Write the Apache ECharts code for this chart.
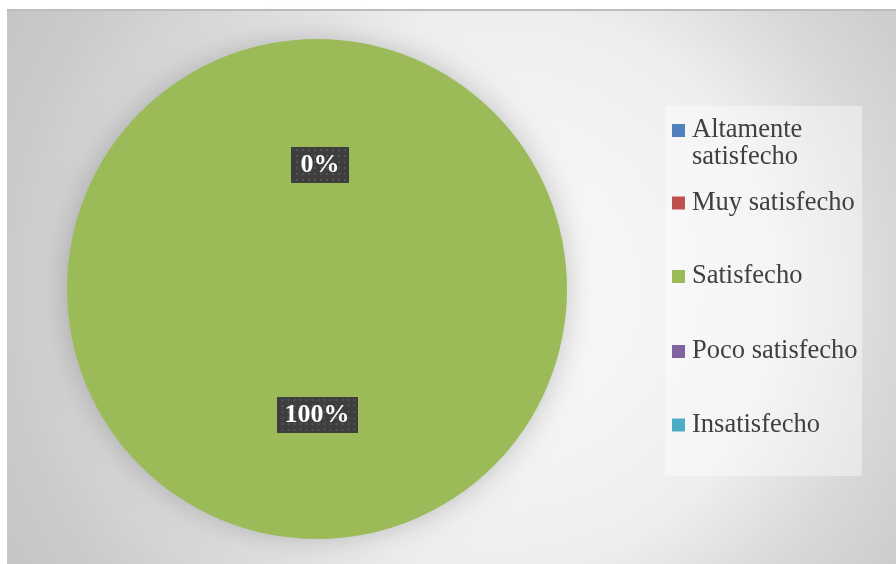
<!DOCTYPE html>
<html>
<head>
<meta charset="utf-8">
<style>
  html, body { margin: 0; padding: 0; background: #ffffff; }
  #chart { width: 896px; height: 564px; }
</style>
<script src="https://cdn.jsdelivr.net/npm/echarts@6/dist/echarts.min.js"></script>
</head>
<body>
<div id="chart"></div>
<script>
// Satisfaction levels and their share of answers
const categories = ['Altamente satisfecho', 'Muy satisfecho', 'Satisfecho', 'Poco satisfecho', 'Insatisfecho'];
const values = [0, 0, 100, 0, 0];
const colors = ['#4f81bd', '#c0504d', '#9bbb59', '#8064a2', '#4bacc6'];
// Only one of the stacked zero-share slices carries a visible label
const showLabel = [true, false, true, false, false];

// Dark dotted tile used behind the data labels
function dottedTile(w, h) {
  const c = document.createElement('canvas');
  c.width = w; c.height = h;
  const g = c.getContext('2d');
  g.fillStyle = '#3e3e3e';
  g.fillRect(0, 0, w, h);
  g.fillStyle = '#535353';
  for (let y = 2; y < h; y += 6) {
    for (let x = (y / 6) % 2 ? 5 : 2; x < w; x += 6) {
      g.fillRect(x, y, 2, 2);
    }
  }
  return c;
}

const chart = echarts.init(document.getElementById('chart'));

const legendTops = [84, 185.5, 259, 334, 407.5];
const legends = categories.map((name, i) => ({
  data: [name],
  orient: 'vertical',
  left: 672,
  top: legendTops[i],
  padding: 0,
  selectedMode: false,
  itemWidth: 13,
  itemHeight: 13,
  itemGap: 0,
  icon: 'rect',
  // the long name wraps; a blank lead line keeps the marker beside its first line
  formatter: name === 'Altamente satisfecho' ? () => ' \nAltamente\nsatisfecho' : undefined,
  textStyle: {
    fontFamily: '"Liberation Serif", "Times New Roman", serif',
    fontSize: 26.5,
    lineHeight: 27,
    color: '#404040',
    padding: name === 'Altamente satisfecho' ? [12, 0, 0, 2] : [8, 0, 0, 2]
  }
}));

const labelTexts = values.map(v => v + '%');
const labelOffsets = [[3, 4], null, [0, -2], null, null];

chart.setOption({
  animation: false,
  backgroundColor: '#ffffff',
  color: colors,
  graphic: [
    {
      type: 'rect',
      z: -10,
      silent: true,
      shape: { x: 7, y: 9, width: 889, height: 555 },
      style: {
        fill: {
          type: 'radial', x: 0.555, y: 0.506, r: 1.03,
          colorStops: [
            { offset: 0, color: '#fcfcfc' },
            { offset: 0.49, color: '#eeeeee' },
            { offset: 0.68, color: '#d9d9d9' },
            { offset: 0.86, color: '#cbcbcb' },
            { offset: 1, color: '#c5c5c5' }
          ]
        }
      }
    },
    {
      type: 'line',
      z: -9,
      silent: true,
      shape: { x1: 7, y1: 10, x2: 896, y2: 10 },
      style: { stroke: '#bdbdbd', lineWidth: 2 }
    },
    {
      type: 'rect',
      z: -8,
      silent: true,
      shape: { x: 665, y: 106, width: 197, height: 370 },
      style: { fill: 'rgba(255,255,255,0.4)' }
    }
  ],
  legend: legends,
  series: [{
    type: 'pie',
    center: [317, 289],
    radius: [0, 250],
    startAngle: 90,
    clockwise: true,
    avoidLabelOverlap: false,
    itemStyle: {
      shadowBlur: 30,
      shadowColor: 'rgba(0,0,0,0.22)'
    },
    emphasis: { disabled: true },
    labelLine: { show: false },
    data: categories.map((name, i) => {
      const text = labelTexts[i];
      const w = text.length > 2 ? 63 : 40;
      return {
        name,
        value: values[i],
        label: {
          show: showLabel[i],
          position: 'inside',
          offset: labelOffsets[i] || [0, 0],
          formatter: text,
          color: '#ffffff',
          fontFamily: '"Liberation Serif", "Times New Roman", serif',
          fontWeight: 'bold',
          fontSize: 26,
          lineHeight: 26,
          width: w,
          height: 26,
          overflow: 'none',
          align: 'center',
          verticalAlign: 'middle',
          padding: [5, 9, 5, 9],
          backgroundColor: { image: dottedTile(w + 18, 36) },
          shadowColor: 'rgba(0,0,0,0.65)',
          shadowBlur: 5,
          shadowOffsetX: 4,
          shadowOffsetY: 4
        }
      };
    })
  }]
});
</script>
</body>
</html>
